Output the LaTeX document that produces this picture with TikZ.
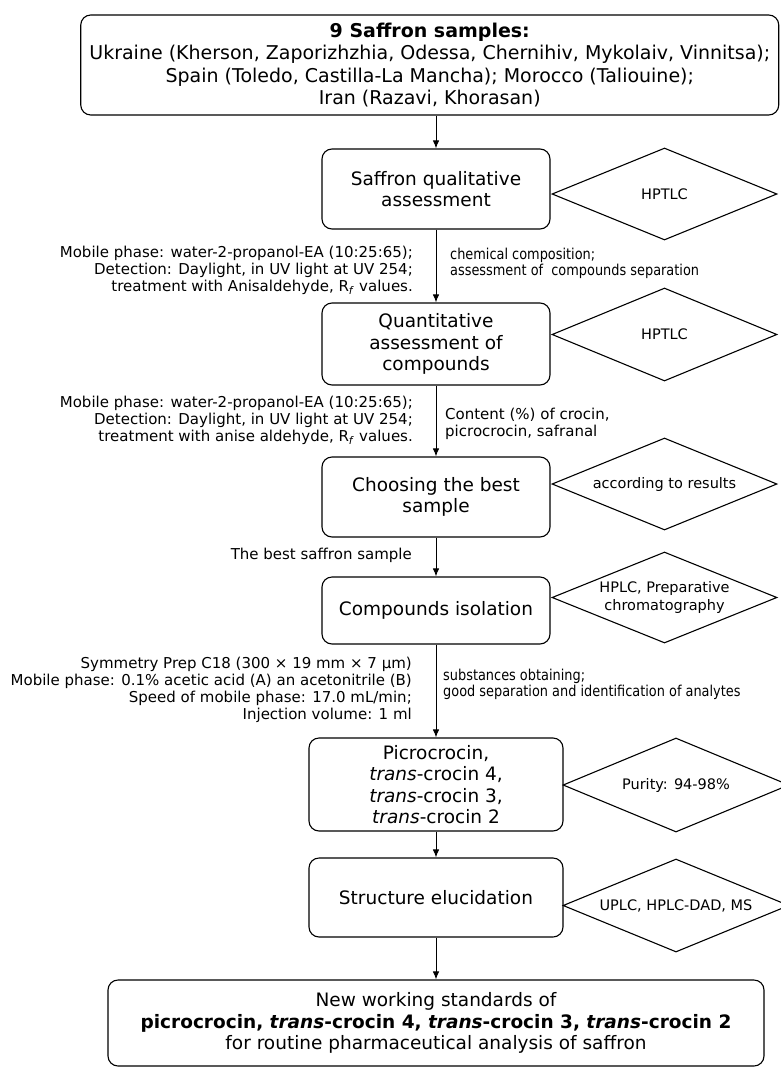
\documentclass[tikz,border=0pt]{standalone}
\usepackage{fontspec}
\setmainfont{DejaVu Sans}
\newfontfamily\nrwfamily[FakeStretch=0.86]{DejaVu Sans}
\usetikzlibrary{shapes.geometric,arrows.meta}
\newcommand\bxfont{\fontsize{18.5}{21.5}\selectfont}
\newcommand\topfont{\fontsize{19}{22.5}\selectfont}
\newcommand\lblfont{\fontsize{15}{17}\selectfont}
\newcommand\nrwfont{\nrwfamily\fontsize{15}{16.5}\selectfont}
\newcommand\dmfont{\fontsize{14.5}{18}\selectfont}
\begin{document}
\begin{tikzpicture}[x=1pt,y=-1pt,
  box/.style={draw, rounded corners=10pt, line width=1.1pt, align=center, inner sep=2pt, font=\bxfont},
  dia/.style={draw, diamond, shape aspect=2.4, line width=1.1pt, inner sep=0pt, align=center, font=\dmfont},
  arr/.style={-{Latex[length=8pt,width=6.5pt]}, line width=1pt},
  lbl/.style={inner sep=0pt, align=right, font=\lblfont, anchor=east},
  rlbl/.style={inner sep=0pt, align=left, anchor=west}]
\useasboundingbox (0,0) rectangle (780,1068);
\fill[white] (0,0) rectangle (780,1068);

\node[box, font=\topfont, minimum width=698pt, minimum height=100pt] (top) at (429.75,65)
  {\textbf{9 Saffron samples:}\\Ukraine (Kherson, Zaporizhzhia, Odessa, Chernihiv, Mykolaiv, Vinnitsa);\\Spain (Toledo, Castilla-La Mancha); Morocco (Taliouine);\\Iran (Razavi, Khorasan)};

\node[box, minimum width=228pt, minimum height=80pt] (qa) at (436,189) {Saffron qualitative\\assessment};
\node[dia, minimum width=225pt, minimum height=92pt] (d1) at (664.5,194) {HPTLC};

\node[box, minimum width=228pt, minimum height=82pt] (qn) at (436,344) {Quantitative\\assessment of\\compounds};
\node[dia, minimum width=225pt, minimum height=93pt] (d2) at (664.5,334.5) {HPTLC};

\node[box, minimum width=228pt, minimum height=80pt] (cb) at (436,497) {Choosing the best\\sample};
\node[dia, minimum width=225pt, minimum height=92pt] (d3) at (664.5,484) {according to results};

\node[box, minimum width=228pt, minimum height=67pt] (ci) at (436,610.5) {Compounds isolation};
\node[dia, minimum width=225pt, minimum height=91pt] (d4) at (664.5,597.5) {HPLC, Preparative\\chromatography};

\node[box, minimum width=254pt, minimum height=93pt] (pc) at (436,784.5) {Picrocrocin,\\\textit{trans}-crocin 4,\\\textit{trans}-crocin 3,\\\textit{trans}-crocin 2};
\node[dia, minimum width=226pt, minimum height=94pt] (d5) at (676,785) {Purity: 94-98\%};

\node[box, minimum width=254pt, minimum height=79pt] (se) at (436,897.5) {Structure elucidation};
\node[dia, minimum width=226pt, minimum height=93pt] (d6) at (676,905.5) {UPLC, HPLC-DAD, MS};

\node[box, minimum width=656pt, minimum height=86pt] (ws) at (436,1023) {New working standards of\\\textbf{picrocrocin, \textit{trans}-crocin 4, \textit{trans}-crocin 3, \textit{trans}-crocin 2}\\for routine pharmaceutical analysis of saffron};

\draw[arr] (top.south -| qa.north) -- (qa.north);
\draw[arr] (qa.south) -- (qn.north);
\draw[arr] (qn.south) -- (cb.north);
\draw[arr] (cb.south) -- (ci.north);
\draw[arr] (ci.south) -- (pc.north);
\draw[arr] (pc.south) -- (se.north);
\draw[arr] (se.south) -- (ws.north);

\node[lbl] (l1) at (413,270) {Mobile phase: water-2-propanol-EA (10:25:65);\\Detection: Daylight, in UV light at UV 254;\\treatment with Anisaldehyde, R\textsubscript{\textit{f}} values.};
\node[rlbl, font=\nrwfont] (r1) at (450,263.5) {chemical composition;\\assessment of\ \ compounds separation};

\node[lbl] (l2) at (413,420) {Mobile phase: water-2-propanol-EA (10:25:65);\\Detection: Daylight, in UV light at UV 254;\\treatment with anise aldehyde, R\textsubscript{\textit{f}} values.};
\node[rlbl, font=\lblfont] (r2) at (445,423.5) {Content (\%) of crocin,\\picrocrocin, safranal};

\node[lbl] (l3) at (412,555) {The best saffron sample};

\node[lbl] (l4) at (412,689.5) {Symmetry Prep C18 (300 × 19 mm × 7 µm)\\Mobile phase: 0.1\% acetic acid (A) an acetonitrile (B)\\Speed of mobile phase: 17.0 mL/min;\\Injection volume: 1 ml};
\node[rlbl, font=\nrwfont] (r4) at (443,684.5) {substances obtaining;\\good separation and identification of analytes};
\end{tikzpicture}
\end{document}
